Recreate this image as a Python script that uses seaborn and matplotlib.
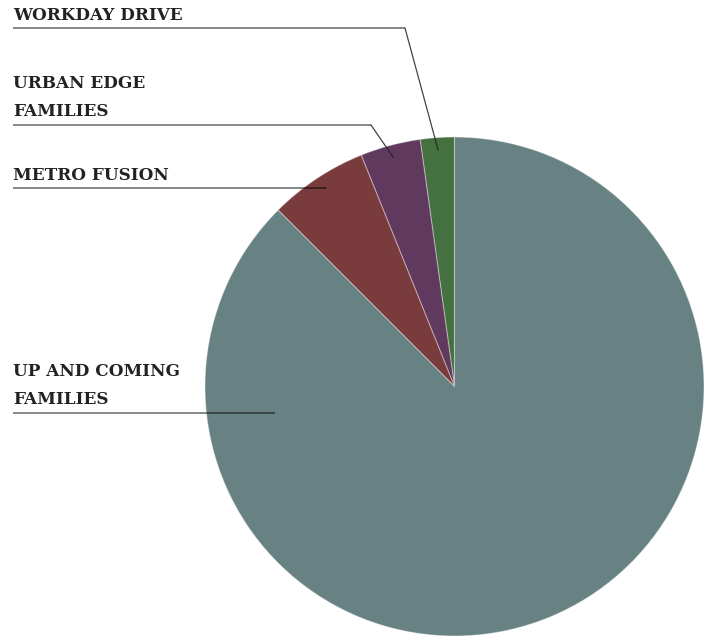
import numpy as np
import matplotlib
matplotlib.use("Agg")
import matplotlib.pyplot as plt
import seaborn as sns

# Segment shares (percent), drawn counter-clockwise from 12 o'clock
segments = ["WORKDAY DRIVE", "URBAN EDGE\nFAMILIES", "METRO FUSION", "UP AND COMING\nFAMILIES"]
shares = [2.2, 3.9, 6.4, 87.5]
colors = ["#44713f", "#5f3a5e", "#7a3b3c", "#688183"]

sns.set_theme(style="white")
plt.rcParams["font.family"] = ["DejaVu Serif", "DejaVu Sans"]

W, H = 708, 637
fig = plt.figure(figsize=(W / 100, H / 100), dpi=100)
ax = fig.add_axes([0, 0, 1, 1])

cx, cy, R = 454.5, H - 386.5, 249.5
wedges, _ = ax.pie(
    shares,
    colors=colors,
    startangle=90,
    counterclock=True,
    center=(cx, cy),
    radius=R,
    frame=True,
    wedgeprops=dict(edgecolor=(1, 1, 1, 0.35), linewidth=0.8),
)
ax.set_xlim(0, W)
ax.set_ylim(0, H)
ax.set_aspect("equal")
ax.axis("off")

# label layout: (underline y from top, underline right end x, anchor angle, anchor radius)
layout = [
    (28, 405, None, 0.95),
    (125, 371, None, 0.95),
    (188, 326, None, 0.95),
    (413, 275, 188.4, 0.73),
]

line_kw = dict(color="#000000", alpha=0.5, linewidth=1.3, solid_capstyle="butt")
for w, label, (uy, ux, ang, rf) in zip(wedges, segments, layout):
    if ang is None:
        ang = (w.theta1 + w.theta2) / 2
    ax_x = cx + rf * R * np.cos(np.radians(ang))
    ax_y = cy + rf * R * np.sin(np.radians(ang))
    y = H - uy
    ax.plot([13, ux], [y, y], **line_kw)
    if abs(ax_x - ux) > 1 or abs(ax_y - y) > 1:
        ax.plot([ux, ax_x], [y, ax_y], color="#222222", linewidth=0.9, alpha=0.85)
    lines = label.split("\n")
    for i, line in enumerate(reversed(lines)):
        ax.text(13, y + 8.5 + 28.5 * i, line, ha="left", va="baseline", fontsize=12.2,
                fontweight="bold", color="#222222")

fig.savefig("out.png", dpi=100)
